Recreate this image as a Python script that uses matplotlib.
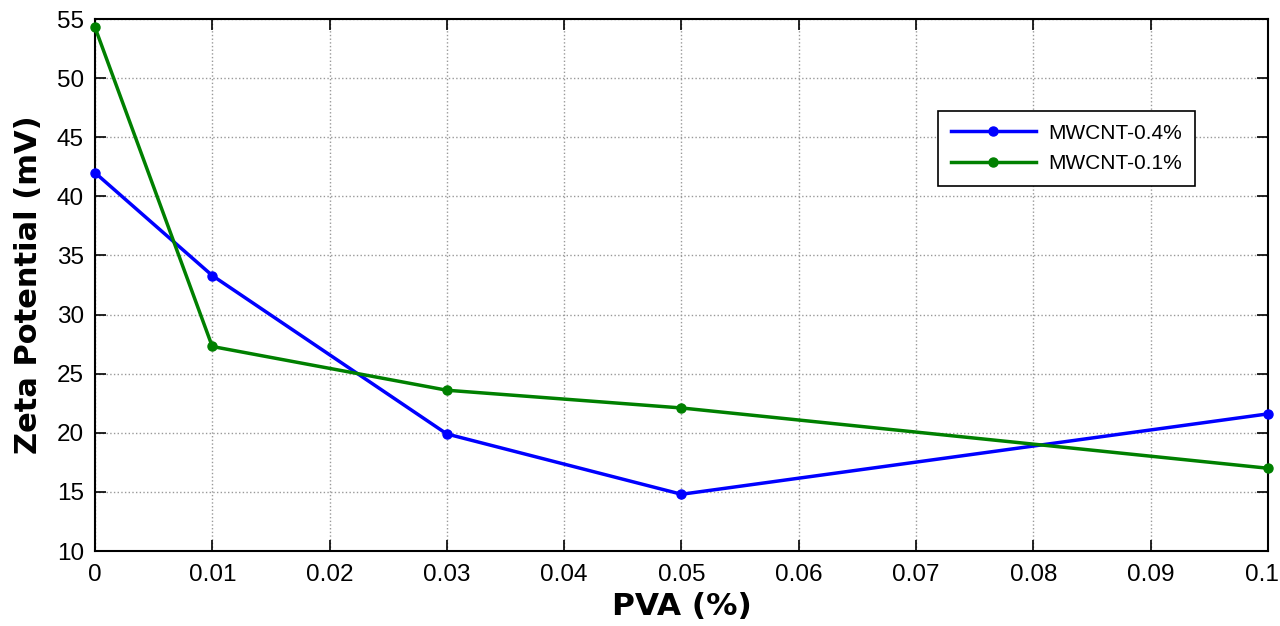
import matplotlib.pyplot as plt
import matplotlib.transforms as mtransforms

plt.rcParams['font.family'] = ['Liberation Sans', 'DejaVu Sans']

pva = [0, 0.01, 0.03, 0.05, 0.1]
zeta_04 = [42.0, 33.3, 19.9, 14.8, 21.6]
zeta_01 = [54.3, 27.3, 23.6, 22.1, 17.0]

fig = plt.figure(figsize=(12.8, 6.26), dpi=100)
ax = fig.add_axes([0.0742, 0.1198, 0.9164, 0.8498])

ax.plot(pva, zeta_04, color='#0000ff', linewidth=2.5, marker='o', markersize=6.5,
        label='MWCNT-0.4%', clip_on=False, zorder=3)
ax.plot(pva, zeta_01, color='#008000', linewidth=2.5, marker='o', markersize=6.5,
        label='MWCNT-0.1%', clip_on=False, zorder=3)

ax.set_xlim(0, 0.1)
ax.set_ylim(10, 55)
ax.set_xticks([0, 0.01, 0.02, 0.03, 0.04, 0.05, 0.06, 0.07, 0.08, 0.09, 0.1])
ax.set_xticklabels(['0', '0.01', '0.02', '0.03', '0.04', '0.05', '0.06', '0.07', '0.08', '0.09', '0.1'])
ax.set_yticks(range(10, 56, 5))
ax.tick_params(direction='in', top=True, right=True, length=8, width=1.2, labelsize=17.5)
ax.tick_params(axis='x', pad=9)
ax.tick_params(axis='y', pad=8)
ax.grid(True, linestyle=':', color='#999999', linewidth=1.0)
for s in ax.spines.values():
    s.set_linewidth(1.5)

# keep the last x label inside the canvas
last = ax.get_xticklabels()[-1]
last.set_transform(last.get_transform() + mtransforms.ScaledTranslation(-6 / 100, 0, fig.dpi_scale_trans))

ax.set_xlabel('PVA (%)', fontsize=22.5, fontweight='bold', family=['DejaVu Sans'], labelpad=5)
ax.set_ylabel('Zeta Potential (mV)', fontsize=22, fontweight='bold', family=['DejaVu Sans'], labelpad=10)

leg = ax.legend(loc='upper left', bbox_to_anchor=(0.7187, 0.827), borderaxespad=0, fontsize=15,
                frameon=True, fancybox=False, edgecolor='black', framealpha=1,
                borderpad=0.6, handlelength=4.1, labelspacing=0.55, handletextpad=0.6)
leg.get_frame().set_linewidth(1.2)

fig.savefig('out.png', dpi=100)
